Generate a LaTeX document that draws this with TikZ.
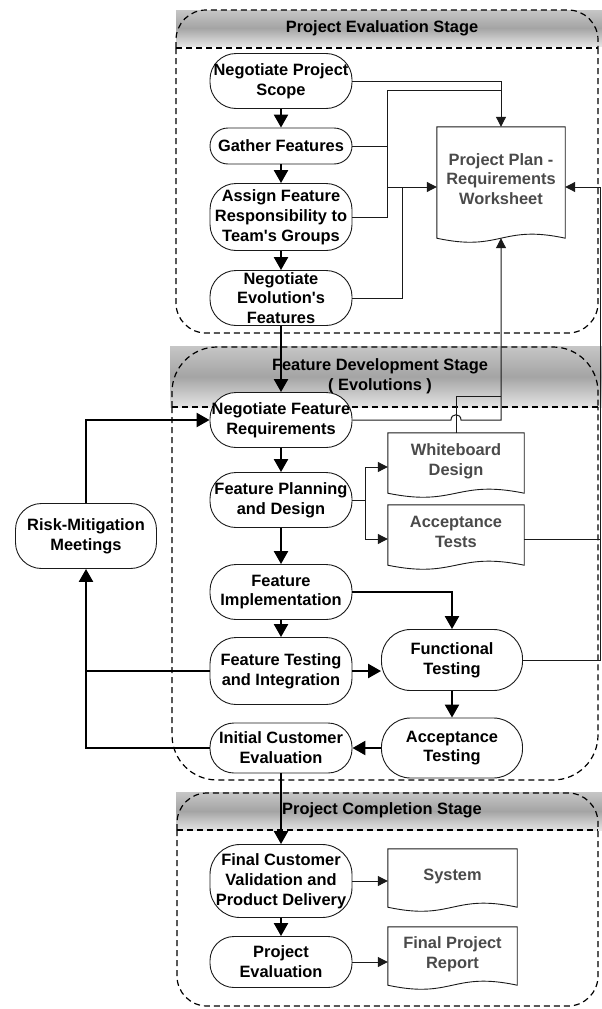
\documentclass[tikz,border=0pt]{standalone}
\usepackage{fontspec}
\setmainfont{Liberation Sans}
\usetikzlibrary{arrows.meta,calc}
\definecolor{docgray}{HTML}{4A4A4A}
\definecolor{linegray}{HTML}{1A1A1A}
\definecolor{bandtop}{HTML}{C6C6C6}
\definecolor{bandmid}{HTML}{A4A4A4}
\definecolor{bandlow}{HTML}{E4E4E4}
% document symbol: flat top, wavy bottom (node spans top to trough)
\newcommand{\DocFrame}[1]{%
  \draw[docline] ($(#1.south west)+(0,-8)$) -- (#1.north west) -- (#1.north east) -- ($(#1.south east)+(0,-8)$)
    .. controls ($(#1.south)+(0,-22)$) and ($(#1.south)+(0,6)$) .. ($(#1.south west)+(0,-8)$) -- cycle;}

\begin{document}
\begin{tikzpicture}[x=1pt,y=-1pt,font=\fontsize{16.4}{19.8}\selectfont\bfseries,
  task/.style={draw=linegray,fill=white,line width=0.9pt,rounded corners=26pt,minimum width=142pt,minimum height=55pt,inner sep=0pt,align=center},
  doc/.style={inner sep=0pt,align=center,text=docgray,text depth=15pt},
  docline/.style={draw=linegray,line width=0.9pt},
  band/.style={top color=bandtop,bottom color=bandlow,middle color=bandmid},
  stage/.style={draw=black,line width=1.2pt,dash pattern=on 6pt off 4pt},
  flow/.style={line width=2.4pt,-{Triangle[length=13pt,width=14pt]}},
  link/.style={draw=linegray,line width=1pt},
  linkarr/.style={link,-{Triangle[length=10pt,width=10pt]}}]
  \useasboundingbox (0,0) rectangle (602,1009);

  % stage frames
  \path[band] (176,10) rectangle (602,46);
  \draw[stage,rounded corners=30pt] (176,48) -- (176,10) -- (598,10) -- (598,48);
  \draw[stage] (176,48) -- (598,48);
  \draw[stage,rounded corners=30pt] (176,48) -- (176,333) -- (598,333) -- (598,48);
  \node (evalhd) at (382,28) {Project Evaluation Stage};

  \path[band] (170,346) rectangle (602,407);
  \draw[stage,rounded corners=45pt] (172,407) -- (172,347) -- (598,347) -- (598,407);
  \draw[stage] (172,407) -- (598,407);
  \draw[stage,rounded corners=45pt] (172,407) -- (172,780) -- (598,780) -- (598,407);
  \node[align=center] (devhd) at (380,376) {Feature Development Stage\\( Evolutions )};

  \path[band] (176,792) rectangle (602,830);
  \draw[stage,rounded corners=30pt] (177,830) -- (177,793) -- (598,793) -- (598,830);
  \draw[stage] (177,830) -- (598,830);
  \draw[stage,rounded corners=30pt] (177,830) -- (177,1006) -- (598,1006) -- (598,830);
  \node (comphd) at (382,810) {Project Completion Stage};

  % evaluation
  \node[task] (nps) at (281,81) {Negotiate Project\\Scope};
  \node[task,minimum height=36pt,rounded corners=18pt] (gf) at (281,146) {Gather Features};
  \node[task,minimum height=67pt] (afr) at (281,217) {Assign Feature\\Responsibility to\\Team\textquotesingle s Groups};
  \node[task] (nef) at (281,298) {Negotiate\\Evolution\textquotesingle s\\Features};
  \node[doc,minimum width=128pt,minimum height=119pt] (ppw) at (501,186.5) {Project Plan -\\Requirements\\Worksheet};
  \DocFrame{ppw}

  % development
  \node[task] (nfr) at (281,420) {Negotiate Feature\\Requirements};
  \node[task] (fpd) at (281,500) {Feature Planning\\and Design};
  \node[doc,minimum width=136pt,minimum height=68pt] (wbd) at (456,467) {Whiteboard\\Design};
  \DocFrame{wbd}
  \node[doc,minimum width=136pt,minimum height=68pt] (act) at (456,539) {Acceptance\\Tests};
  \DocFrame{act}
  \node[task] (fim) at (281,592) {Feature\\Implementation};
  \node[task,minimum height=67pt] (fti) at (281,671) {Feature Testing\\and Integration};
  \node[task,minimum width=141pt,minimum height=61pt,rounded corners=29pt] (fnt) at (452,660) {Functional\\Testing};
  \node[task,minimum width=141pt,minimum height=60pt,rounded corners=29pt] (ats) at (452,748) {Acceptance\\Testing};
  \node[task,minimum height=50pt,rounded corners=24pt] (ice) at (281,748) {Initial Customer\\Evaluation};
  \node[task,minimum width=141pt,minimum height=65pt] (rmm) at (86,536) {Risk-Mitigation\\Meetings};

  % completion
  \node[task,minimum height=73pt,rounded corners=30pt] (fcv) at (281,881) {Final Customer\\Validation and\\Product Delivery};
  \node[task,minimum height=51pt,rounded corners=24pt] (pev) at (281,962) {Project\\Evaluation};
  \node[doc,minimum width=129pt,minimum height=66pt] (sys) at (452.5,882) {System};
  \DocFrame{sys}
  \node[doc,minimum width=129pt,minimum height=66pt] (fpr) at (452.5,960) {Final Project\\Report};
  \DocFrame{fpr}

  % junctions
  \coordinate (upj) at (387,90);
  \coordinate (midj) at (387,187);
  \coordinate (nefj) at (402,187);
  \coordinate (rightj) at (600,187);
  \coordinate (wbj) at (501,396);
  \coordinate (fpdj) at (365,500);
  \coordinate (ppwin) at ($(ppw.south)+(0,-8)$);
  \coordinate (hop) at (nfr.east -| wbd.north);

  % worksheet inputs
  \draw[linkarr] (nps.east) -| (ppw.north);
  \draw[link] (ppw.north |- upj) -- (upj) |- (afr.east);
  \draw[link] (gf.east) -- (gf.east -| upj);
  \draw[linkarr] (midj) -- (midj -| ppw.west);
  \draw[link] (nef.east) -| (nefj);
  \draw[linkarr] (fnt.east) -| (rightj) -- (rightj -| ppw.east);
  \draw[link] (act.east) -- (act.east -| rightj);
  \draw[link] (wbd.north) |- (wbj);
  \draw[linkarr] (nfr.east) -- ($(hop)+(-5,0)$) .. controls +(0,-7) and +(0,-7) .. ($(hop)+(5,0)$) -| (ppwin);
  \draw[link] (fpd.east) -- (fpdj);
  \draw[linkarr] (fpdj) |- (wbd.west);
  \draw[linkarr] (fpdj) |- (act.west);
  \draw[linkarr] (fcv.east) -- (fcv.east -| sys.west);
  \draw[linkarr] (pev.east) -- (pev.east -| fpr.west);

  % main flow
  \draw[flow] (nps.south) -- (gf.north);
  \draw[flow] (gf.south) -- (afr.north);
  \draw[flow] (afr.south) -- (nef.north);
  \draw[flow] (nef.south) -- (nfr.north);
  \draw[flow] (nfr.south) -- (fpd.north);
  \draw[flow] (fpd.south) -- (fim.north);
  \draw[flow] (fim.south) -- (fti.north);
  \draw[flow] (fim.east) -| (fnt.north);
  \draw[flow] (fti.east) -- (fti.east -| fnt.west);
  \draw[flow] (fnt.south) -- (ats.north);
  \draw[flow] (ats.west) -- (ice.east);
  \draw[flow] (ice.south) -- (fcv.north);
  \draw[flow] (fcv.south) -- (pev.north);
  \draw[flow] (ice.west) -| (rmm.south);
  \draw[line width=2.4pt] (fti.west) -- (fti.west -| rmm.south);
  \draw[flow] (rmm.north) |- (nfr.west);
\end{tikzpicture}
\end{document}
